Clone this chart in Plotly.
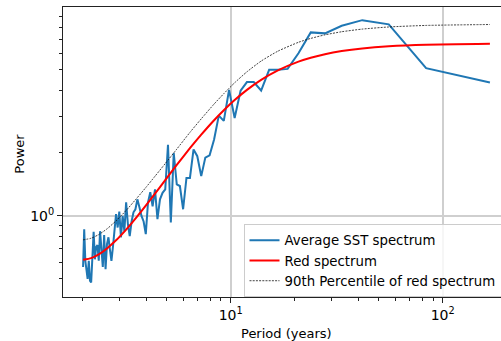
import plotly.graph_objects as go

# Periods (years) of the spectral estimates, shortest first
periods = [2.012, 2.037, 2.062, 2.0875, 2.114, 2.141, 2.169, 2.197, 2.227, 2.257,
           2.288, 2.319, 2.352, 2.386, 2.420, 2.456, 2.493, 2.530, 2.569, 2.609,
           2.651, 2.694, 2.738, 2.783, 2.831, 2.879, 2.930, 2.982, 3.036, 3.093,
           3.151, 3.212, 3.275, 3.34, 3.408, 3.479, 3.553, 3.630, 3.711, 3.795,
           3.884, 3.976, 4.073, 4.175, 4.282, 4.395, 4.514, 4.639, 4.771, 4.912,
           5.061, 5.219, 5.387, 5.567, 5.759, 5.964, 6.185, 6.423, 6.68, 6.958,
           7.261, 7.591, 7.952, 8.35, 8.789, 9.278, 9.824, 10.4375, 11.133, 11.929,
           12.846, 13.917, 15.182, 16.7, 18.556, 20.875, 23.857, 27.833, 33.4, 41.75,
           55.667, 83.5, 167.0]

sst_power = [0.57, 0.864, 0.61, 0.545, 0.50, 0.61, 0.49, 0.48, 0.61, 0.84,
             0.62, 0.71, 0.725, 0.61, 0.845, 0.68, 0.57, 0.81, 0.556, 0.733,
             0.79, 0.69, 0.61, 0.71, 0.84, 1.02, 0.88, 1.05, 0.79, 1.0,
             0.845, 1.16, 0.91, 0.80, 0.94, 1.04, 1.076, 1.2, 1.1, 1.0,
             0.94, 0.818, 1.16, 1.30, 1.11, 1.34, 0.964, 1.2, 1.29, 1.34,
             2.19, 0.93, 2.0, 1.415, 1.39, 1.076, 1.52, 1.52, 2.08, 1.93,
             1.55, 1.90, 1.95, 2.32, 3.02, 2.85, 4.01, 2.94, 3.97, 4.37,
             4.37, 3.98, 5.0, 5.0, 5.05, 6.0, 7.55, 7.47, 8.12, 8.64,
             8.25, 5.09, 4.35]

# Red-noise spectrum and its 90th percentile, read at selected periods
red_periods = [2.012, 2.197, 2.386, 2.609, 2.879, 3.212, 3.553, 3.976, 4.395, 4.912,
               5.567, 6.423, 7.261, 8.35, 9.278, 10.4375, 11.929, 13.917, 16.7, 20.875,
               23.857, 27.833, 33.4, 41.75, 55.667, 83.5, 167.0]
red_power = [0.617, 0.628, 0.654, 0.699, 0.764, 0.860, 0.971, 1.120, 1.279, 1.483,
             1.754, 2.108, 2.448, 2.870, 3.204, 3.583, 4.009, 4.476, 4.972, 5.473,
             5.713, 5.941, 6.149, 6.330, 6.480, 6.591, 6.659]
p90_power = [0.768, 0.782, 0.814, 0.867, 0.947, 1.062, 1.194, 1.366, 1.548, 1.780,
             2.087, 2.509, 2.913, 3.430, 3.845, 4.335, 4.891, 5.505, 6.140, 6.770,
             7.067, 7.349, 7.606, 7.830, 8.016, 8.153, 8.237]

x_major = [10, 100]
x_major_text = ["10<sup>1</sup>", "10<sup>2</sup>"]
x_minor = [2, 3, 4, 5, 6, 7, 8, 9, 20, 30, 40, 50, 60, 70, 80, 90, 200]
y_major = [1]
y_major_text = ["10<sup>0</sup>"]
y_minor = [0.5, 0.6, 0.7, 0.8, 0.9, 2, 3, 4, 5, 6, 7, 8, 9]

W, H = 501, 341
L, R, T, B = 63, 0, 7, 44
pw, ph = W - L - R, H - T - B

fig = go.Figure()
fig.add_trace(go.Scatter(x=periods, y=sst_power, mode="lines", name="Average SST spectrum",
                         line=dict(color="#1f77b4", width=2)))
fig.add_trace(go.Scatter(x=red_periods, y=red_power, mode="lines", name="Red spectrum",
                         line=dict(color="#ff0000", width=2, shape="spline", smoothing=0.6)))
fig.add_trace(go.Scatter(x=red_periods, y=p90_power, mode="lines",
                         name="90th Percentile of red spectrum",
                         line=dict(color="#111111", width=0.8, dash="2px,1.2px",
                                   shape="spline", smoothing=0.6)))

font = dict(family="DejaVu Sans", size=13, color="#000000")
tfont = dict(family="DejaVu Sans", size=14, color="#000000")

fig.update_layout(
    width=W, height=H,
    margin=dict(l=L, r=R, t=T, b=B, autoexpand=False),
    paper_bgcolor="white", plot_bgcolor="white",
    font=font,
    showlegend=True,
    legend=dict(x=(243.5 - L) / pw, y=1 - (224 - T) / ph, xanchor="left", yanchor="top",
                bgcolor="rgba(255,255,255,0.8)", bordercolor="#cccccc", borderwidth=1,
                font=dict(family="DejaVu Sans", size=13.3, color="#000000"),
                itemwidth=30),
    xaxis=dict(type="log", range=[0.209, 2.275], showline=True, linecolor="#222222",
               linewidth=1, mirror=True, ticks="outside", ticklen=5, tickwidth=1,
               tickcolor="#222222", tickvals=x_major, ticktext=x_major_text,
               showgrid=True, gridcolor="#cfcfcf", gridwidth=1.5, zeroline=False,
               minor=dict(tickvals=x_minor, ticks="outside", ticklen=3, tickwidth=1,
                          tickcolor="#222222", showgrid=False),
               tickfont=tfont),
    yaxis=dict(type="log", range=[-0.388, 0.9995], showline=True, linecolor="#222222",
               linewidth=1, mirror=False, ticks="outside", ticklen=5, tickwidth=1,
               tickcolor="#222222", tickvals=y_major, ticktext=y_major_text,
               showgrid=True, gridcolor="#cfcfcf", gridwidth=1.5, zeroline=False,
               minor=dict(tickvals=y_minor, ticks="outside", ticklen=3, tickwidth=1,
                          tickcolor="#222222", showgrid=False),
               tickfont=tfont),
    annotations=[
        dict(text="Period (years)", xref="paper", yref="paper",
             x=(286 - L) / pw, y=1 - (333 - T) / ph, xanchor="center", yanchor="middle",
             showarrow=False, font=font),
        dict(text="Power", xref="paper", yref="paper",
             x=(18.7 - L) / pw, y=1 - (154 - T) / ph, xanchor="center", yanchor="middle",
             textangle=-90, showarrow=False, font=font),
    ],
)

fig.write_html("out.html", config={"displayModeBar": False},
               post_script="document.body.style.margin='0px';document.body.style.overflow='hidden';")
